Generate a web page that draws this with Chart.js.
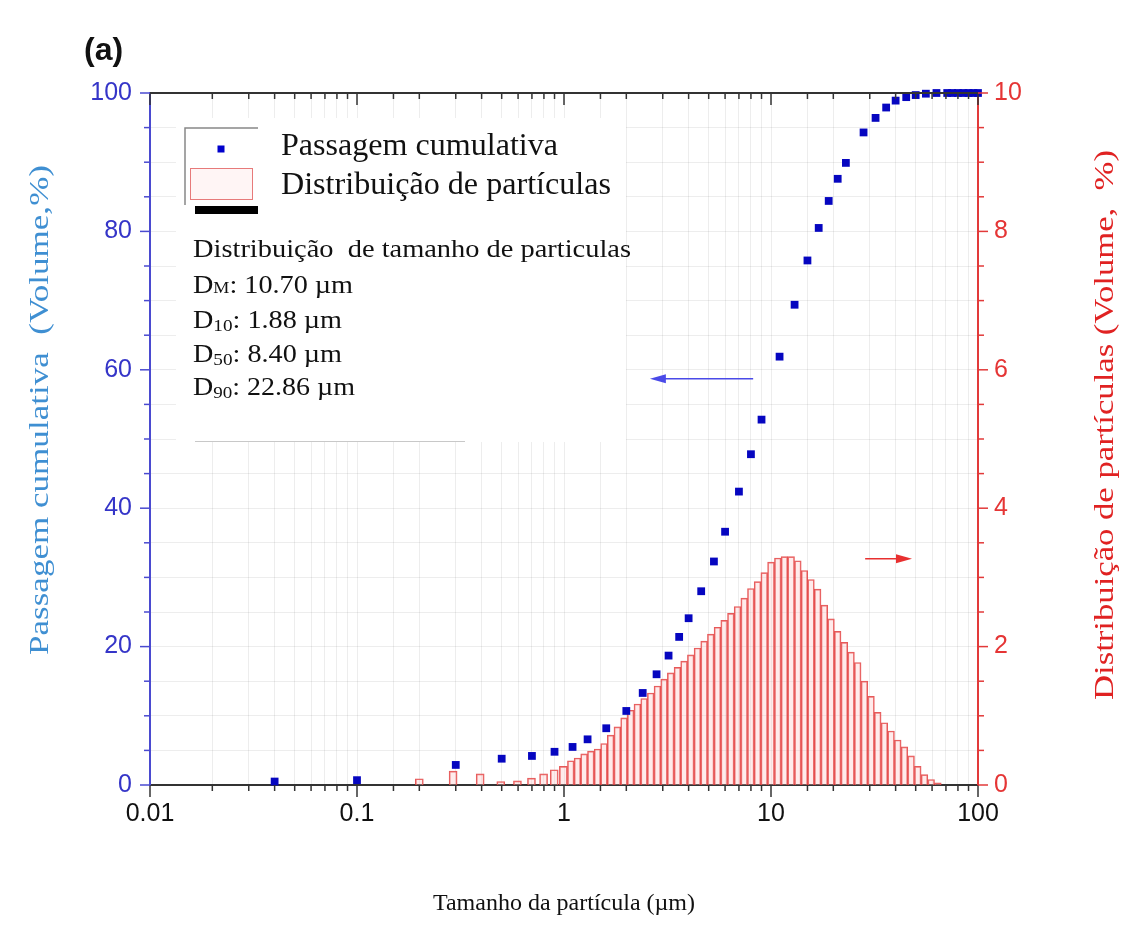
<!DOCTYPE html>
<html>
<head>
<meta charset="utf-8">
<script src="https://cdn.jsdelivr.net/npm/chart.js@4.4.0/dist/chart.umd.min.js"></script>
<style>
  body { margin: 0; background: #fff; }
  canvas { display: block; }
</style>
</head>
<body>
<canvas id="grafico" width="1130" height="942"></canvas>
<script>
// passagem cumulativa (pontos azuis, eixo esquerdo)
const tamanhosPassagem = [0.04, 0.1, 0.3, 0.5, 0.7, 0.9, 1.1, 1.3, 1.6, 2.0, 2.4, 2.8, 3.2, 3.6, 4.0, 4.6, 5.3, 6.0, 7.0, 8.0, 9.0,
    11, 13, 15, 17, 19, 21, 23, 28, 32, 36, 40, 45, 50, 56, 63, 71, 75, 80, 85, 90, 95, 100];
const passagemCumulativa = [0.5, 0.7, 2.9, 3.8, 4.2, 4.8, 5.5, 6.6, 8.2, 10.7, 13.3, 16.0, 18.7, 21.4, 24.1, 28.0, 32.3, 36.6, 42.4, 47.8, 52.8,
    61.9, 69.4, 75.8, 80.5, 84.4, 87.6, 89.9, 94.3, 96.4, 97.9, 98.9, 99.4, 99.7, 99.9, 100, 100, 100, 100, 100, 100, 100, 100];

// distribuição de partículas (barras, eixo direito)
const tamanhosDistribuicao = [0.2, 0.3, 0.4, 0.5, 0.6, 0.7, 0.8, 0.9,
    1.0, 1.08, 1.16, 1.25, 1.35, 1.45, 1.56, 1.68, 1.81, 1.95, 2.10, 2.26, 2.44, 2.62, 2.83, 3.04, 3.28, 3.53, 3.80, 4.10,
    4.41, 4.75, 5.12, 5.51, 5.94, 6.40, 6.89, 7.42, 7.99, 8.61, 9.27, 10.0, 10.8, 11.6, 12.5, 13.5, 14.5, 15.6, 16.8, 18.1,
    19.5, 21.0, 22.6, 24.4, 26.2, 28.3, 30.4, 32.8, 35.3, 38.0, 41.0, 44.1, 47.5, 51.2, 55.1, 59.4, 64.0];
const distribuicao = [0.09, 0.20, 0.16, 0.05, 0.06, 0.10, 0.16, 0.22,
    0.27, 0.35, 0.39, 0.45, 0.49, 0.52, 0.60, 0.72, 0.84, 0.97, 1.08, 1.17, 1.25, 1.33, 1.43, 1.53, 1.62, 1.70, 1.79, 1.88,
    1.98, 2.08, 2.18, 2.28, 2.38, 2.48, 2.58, 2.70, 2.84, 2.94, 3.07, 3.22, 3.28, 3.30, 3.30, 3.24, 3.10, 2.97, 2.83, 2.60,
    2.40, 2.22, 2.06, 1.92, 1.77, 1.50, 1.28, 1.05, 0.90, 0.78, 0.65, 0.55, 0.42, 0.27, 0.15, 0.08, 0.03];

const ticksX = [0.01, 0.1, 1, 10, 100];
const ticksEsquerda = [0, 20, 40, 60, 80, 100];
const ticksDireita = [0, 2, 4, 6, 8, 10];

const serif = '"Liberation Serif", "Times New Roman", serif';
const sans = '"Liberation Sans", Arial, sans-serif';

function ehMaior(lista, v) {
    return lista.some(t => Math.abs(t - v) <= t * 1e-6 + 1e-9);
}

function linha(ctx, x1, y1, x2, y2) {
    ctx.beginPath();
    ctx.moveTo(x1, y1);
    ctx.lineTo(x2, y2);
    ctx.stroke();
}

// desenha um texto (com partes em subscrito) ajustado a uma largura
function texto(ctx, partes, x, y, largura) {
    let total = 0;
    partes.forEach(p => {
        ctx.font = p.size + 'px ' + serif;
        p.w = ctx.measureText(p.t).width;
        total += p.w;
    });
    ctx.save();
    ctx.translate(x, y);
    ctx.scale(largura ? largura / total : 1, 1);
    let cx = 0;
    partes.forEach(p => {
        ctx.font = p.size + 'px ' + serif;
        ctx.fillText(p.t, cx, p.dy || 0);
        cx += p.w;
    });
    ctx.restore();
}

function tituloVertical(ctx, t, cx, cy, size, comprimento, cor) {
    ctx.save();
    ctx.font = size + 'px ' + serif;
    const w = ctx.measureText(t).width;
    ctx.translate(cx, cy);
    ctx.rotate(-Math.PI / 2);
    ctx.scale(comprimento / w, 1);
    ctx.fillStyle = cor;
    ctx.textAlign = 'center';
    ctx.textBaseline = 'middle';
    ctx.fillText(t, 0, 0);
    ctx.restore();
}

function seta(ctx, x1, x2, y, cor) {
    const dir = Math.sign(x2 - x1);
    ctx.strokeStyle = cor;
    ctx.fillStyle = cor;
    ctx.lineWidth = 1.5;
    linha(ctx, x1, y, x2 - dir * 10, y);
    ctx.beginPath();
    ctx.moveTo(x2, y);
    ctx.lineTo(x2 - dir * 16, y - 4.5);
    ctx.lineTo(x2 - dir * 16, y + 4.5);
    ctx.closePath();
    ctx.fill();
}

const fundoLegenda = {
    id: 'fundoLegenda',
    beforeDatasetsDraw(chart) {
        const ctx = chart.ctx;
        ctx.save();
        ctx.fillStyle = '#fff';
        ctx.fillRect(176, 118, 450, 324);
        ctx.restore();
    }
};

const extras = {
    id: 'extras',
    afterDraw(chart) {
        const ctx = chart.ctx;
        const xs = chart.scales.x, yl = chart.scales.y, yr = chart.scales.y2;
        const {left, right, top, bottom} = chart.chartArea;
        ctx.save();

        // marcas dos eixos
        ctx.lineWidth = 1.5;
        ctx.strokeStyle = '#333';
        xs.ticks.forEach(t => {
            const px = xs.getPixelForValue(t.value);
            const len = ehMaior(ticksX, t.value) ? 12 : 6;
            linha(ctx, px, bottom, px, bottom + len);
            linha(ctx, px, top, px, top + len);
        });
        ctx.lineWidth = 2;
        linha(ctx, left, top, right, top);

        ctx.lineWidth = 1.5;
        ctx.strokeStyle = '#4a4ad0';
        yl.ticks.forEach(t => {
            const py = yl.getPixelForValue(t.value);
            linha(ctx, left, py, left - (ehMaior(ticksEsquerda, t.value) ? 10 : 6), py);
        });
        ctx.strokeStyle = '#e23a3a';
        yr.ticks.forEach(t => {
            const py = yr.getPixelForValue(t.value);
            linha(ctx, right, py, right + (ehMaior(ticksDireita, t.value) ? 10 : 6), py);
        });

        // legenda
        ctx.strokeStyle = '#888';
        ctx.lineWidth = 1.5;
        ctx.beginPath();
        ctx.moveTo(185, 205);
        ctx.lineTo(185, 128);
        ctx.lineTo(258, 128);
        ctx.stroke();
        ctx.fillStyle = '#0000cc';
        ctx.fillRect(217.5, 145.5, 7, 7);
        ctx.fillStyle = 'rgba(255,225,225,0.35)';
        ctx.fillRect(190.5, 168.5, 62, 31);
        ctx.strokeStyle = 'rgba(225,90,90,0.8)';
        ctx.lineWidth = 1;
        ctx.strokeRect(190.5, 168.5, 62, 31);
        ctx.fillStyle = '#000';
        ctx.fillRect(195, 206, 63, 8);

        ctx.fillStyle = '#111';
        texto(ctx, [{t: 'Passagem cumulativa', size: 32}], 281, 155, 277);
        texto(ctx, [{t: 'Distribuição de partículas', size: 32}], 281, 194, 330);

        texto(ctx, [{t: 'Distribuição  de tamanho de particulas', size: 25}], 193, 257, 438);
        texto(ctx, [{t: 'D', size: 25}, {t: 'M', size: 16}, {t: ': 10.70 µm', size: 25}], 193, 293, 160);
        texto(ctx, [{t: 'D', size: 25}, {t: '10', size: 17, dy: 3}, {t: ': 1.88 µm', size: 25}], 193, 328, 149);
        texto(ctx, [{t: 'D', size: 25}, {t: '50', size: 17, dy: 3}, {t: ': 8.40 µm', size: 25}], 193, 362, 149);
        texto(ctx, [{t: 'D', size: 25}, {t: '90', size: 17, dy: 3}, {t: ': 22.86 µm', size: 25}], 193, 395, 162);

        ctx.strokeStyle = '#c8c8c8';
        ctx.lineWidth = 1;
        linha(ctx, 195, 441.5, 465, 441.5);

        // setas indicando o eixo de cada série
        const yAzul = yl.getPixelForValue(58.7);
        seta(ctx, xs.getPixelForValue(8.2), xs.getPixelForValue(2.6), yAzul, '#4a4ae8');
        const yVermelho = yr.getPixelForValue(3.27);
        seta(ctx, xs.getPixelForValue(28.5), xs.getPixelForValue(48), yVermelho, '#e83030');

        // títulos
        tituloVertical(ctx, 'Passagem cumulativa  (Volume,%)', 41, 410, 27, 490, '#3f8fd2');
        tituloVertical(ctx, 'Distribuição de partículas (Volume,  %)', 1106, 425, 27, 550, '#e02222');
        ctx.fillStyle = '#111';
        ctx.font = '24px ' + serif;
        ctx.textAlign = 'center';
        ctx.textBaseline = 'alphabetic';
        ctx.fillText('Tamanho da partícula (µm)', (left + right) / 2, 910);

        ctx.textAlign = 'left';
        ctx.font = 'bold 32px ' + sans;
        ctx.fillText('(a)', 84, 60);
        ctx.restore();
    }
};

const grafico = document.getElementById('grafico').getContext('2d');

new Chart(grafico, {
    type: 'scatter',
    data: {
        datasets: [{
            type: 'scatter',
            label: 'Passagem cumulativa',
            data: tamanhosPassagem.map((x, i) => ({x: x, y: passagemCumulativa[i]})),
            xAxisID: 'x',
            yAxisID: 'y',
            pointStyle: 'rect',
            pointRadius: 5.5,
            pointBackgroundColor: '#0606c0',
            pointBorderWidth: 0,
            clip: false,
            order: 1
        }, {
            type: 'bar',
            label: 'Distribuição de partículas',
            data: tamanhosDistribuicao.map((x, i) => ({x: x, y: distribuicao[i]})),
            xAxisID: 'x',
            yAxisID: 'y2',
            backgroundColor: 'rgba(255,190,190,0.3)',
            borderColor: 'rgba(226,60,60,0.85)',
            borderWidth: 1,
            barThickness: 'flex',
            maxBarThickness: 8,
            barPercentage: 1,
            categoryPercentage: 1,
            order: 2
        }]
    },
    options: {
        responsive: false,
        animation: false,
        layout: {padding: {top: 93}},
        plugins: {legend: {display: false}, tooltip: {enabled: false}},
        scales: {
            x: {
                type: 'logarithmic',
                position: 'bottom',
                min: 0.01,
                max: 100,
                offset: false,
                afterFit: s => { s.height = 157; },
                grid: {offset: false, color: 'rgba(0,0,0,0.07)', drawTicks: false},
                border: {color: '#333', width: 2},
                ticks: {
                    autoSkip: false,
                    maxRotation: 0,
                    padding: 14,
                    color: '#111',
                    font: {family: sans, size: 25},
                    callback: v => ehMaior(ticksX, v) ? String(v) : ''
                }
            },
            y: {
                position: 'left',
                min: 0,
                max: 100,
                afterFit: s => { s.width = 150; },
                grid: {color: 'rgba(0,0,0,0.07)', drawTicks: false},
                border: {color: '#4a4ad0', width: 2},
                ticks: {
                    stepSize: 5,
                    autoSkip: false,
                    padding: 18,
                    color: '#3535c8',
                    font: {family: sans, size: 25},
                    callback: v => ehMaior(ticksEsquerda, v) ? String(v) : ''
                }
            },
            y2: {
                position: 'right',
                min: 0,
                max: 10,
                afterFit: s => { s.width = 152; },
                grid: {display: false, drawTicks: false},
                border: {color: '#e23a3a', width: 2},
                ticks: {
                    stepSize: 0.5,
                    autoSkip: false,
                    padding: 16,
                    color: '#e53535',
                    font: {family: sans, size: 25},
                    callback: v => ehMaior(ticksDireita, v) ? String(v) : ''
                }
            }
        }
    },
    plugins: [fundoLegenda, extras]
});
</script>
</body>
</html>
